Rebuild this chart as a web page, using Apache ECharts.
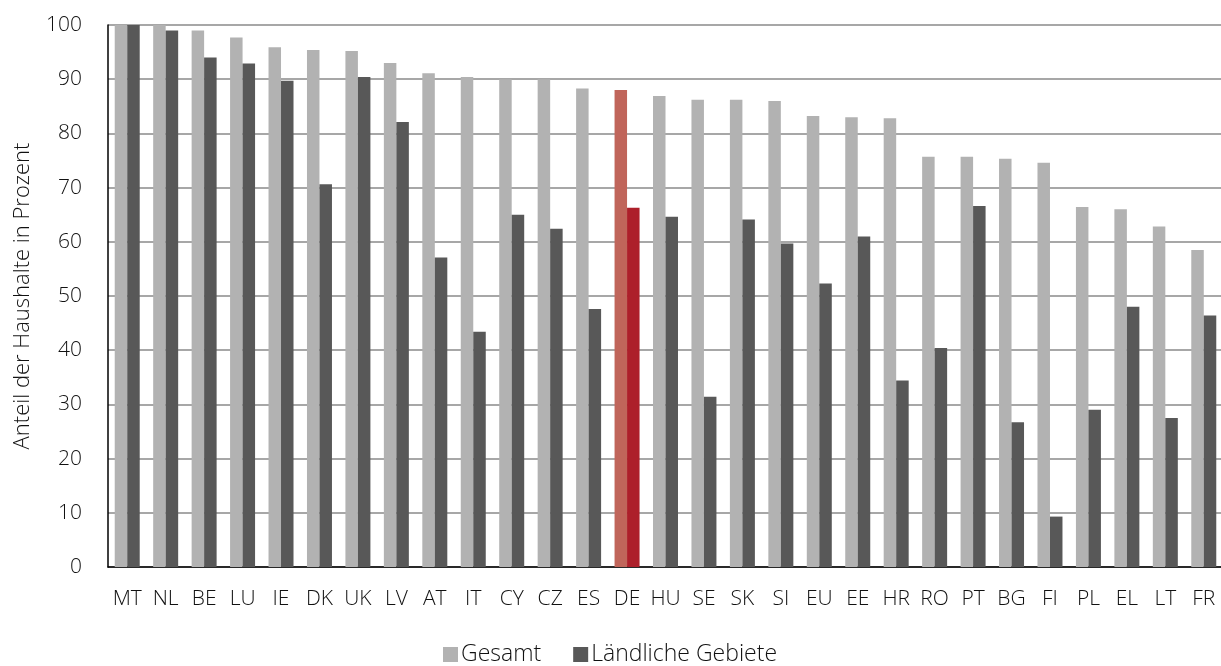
<!DOCTYPE html>
<html><head><meta charset="utf-8">
<script src="https://cdn.jsdelivr.net/npm/echarts@6/dist/echarts.min.js"></script>
<style>html,body{margin:0;padding:0;background:#fff}#c{width:1221px;height:666px}</style>
</head><body><div id="c"></div>
<script>
const categories = ['MT','NL','BE','LU','IE','DK','UK','LV','AT','IT','CY','CZ','ES','DE','HU','SE','SK','SI','EU','EE','HR','RO','PT','BG','FI','PL','EL','LT','FR'];
const gesamt = [100,100,99.0,97.7,95.9,95.4,95.2,93.0,91.1,90.4,90.0,90.0,88.3,88.0,86.9,86.2,86.2,86.0,83.2,83.0,82.8,75.7,75.7,75.3,74.6,66.4,66.0,62.8,58.5];
const laendlich = [100,99.0,94.0,92.9,89.7,70.6,90.4,82.1,57.1,43.4,65.0,62.4,47.6,66.3,64.6,31.4,64.1,59.7,52.3,61.0,34.4,40.4,66.6,26.7,9.3,29.0,48.0,27.5,46.4];
const yTicks = [0,10,20,30,40,50,60,70,80,90,100];
const highlight = 'DE';

const font = "'Open Sans', sans-serif";
const fw = 300;
const chart = echarts.init(document.getElementById('c'), null, {renderer:'canvas'});
chart.setOption({
  animation:false,
  textStyle:{fontFamily:font},
  grid:{left:108,right:-2,top:25,bottom:99,containLabel:false,outerBoundsMode:'none'},
  legend:{
    top:638,left:438,itemWidth:15,itemHeight:15,itemGap:32,
    icon:'rect',
    textStyle:{fontFamily:font,fontWeight:fw,fontSize:23,color:'#111',padding:[0,0,0,-2]},
    data:['Gesamt','Ländliche Gebiete']
  },
  xAxis:{
    type:'category',data:categories,
    axisLine:{lineStyle:{color:'#000',width:1.5}},
    axisTick:{show:false},
    axisLabel:{fontFamily:font,fontWeight:fw,fontSize:21,color:'#111',margin:22,interval:0}
  },
  yAxis:{
    type:'value',min:yTicks[0],max:yTicks[yTicks.length-1],interval:10,
    name:'Anteil der Haushalte in Prozent',nameLocation:'middle',nameGap:74,nameRotate:90,
    nameTextStyle:{fontFamily:font,fontWeight:fw,fontSize:22,color:'#111'},
    axisLine:{show:true,lineStyle:{color:'#000',width:1.5}},
    axisTick:{show:false},
    axisLabel:{fontFamily:font,fontWeight:fw,fontSize:21,color:'#111',margin:26},
    splitLine:{lineStyle:{color:'#8a8a8a',width:1.5}}
  },
  series:[
    {name:'Gesamt',type:'bar',barGap:'0%',barCategoryGap:'35%',
     itemStyle:{color:'#b2b2b2'},
     data:gesamt.map((v,i)=>categories[i]===highlight?{value:v,itemStyle:{color:'#c0655a'}}:v)},
    {name:'Ländliche Gebiete',type:'bar',barGap:'0%',barCategoryGap:'35%',
     itemStyle:{color:'#585858'},
     data:laendlich.map((v,i)=>categories[i]===highlight?{value:v,itemStyle:{color:'#ad1f2a'}}:v)}
  ]
});
</script></body></html>
